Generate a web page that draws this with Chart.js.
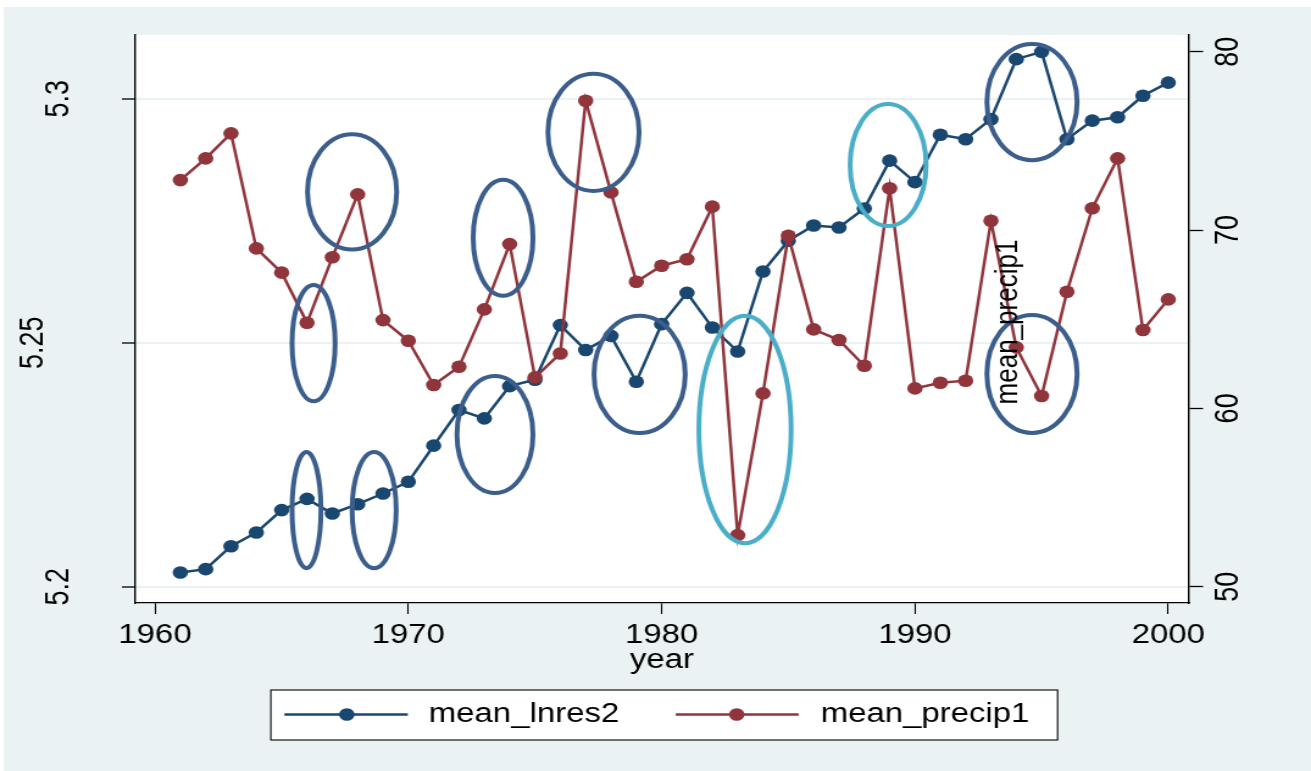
<!DOCTYPE html>
<html lang="en">
<head>
    <meta charset="UTF-8">
    <title>mean_lnres2 and mean_precip1 by year</title>
    <script src="https://cdn.jsdelivr.net/npm/chart.js"></script>
    <style>
        html, body {
            margin: 0;
            padding: 0;
            background: #fff;
        }
        #chart {
            display: block;
        }
    </style>
</head>
<body>
    <!-- the source graph is stretched sideways, so draw narrow and widen with an inline style -->
    <canvas id="chart" width="1075" height="771" style="width:1311px;height:771px"></canvas>

    <script>
        const STRETCH = 1311 / 1075;

        // data
        const years = [1961, 1962, 1963, 1964, 1965, 1966, 1967, 1968, 1969, 1970,
                       1971, 1972, 1973, 1974, 1975, 1976, 1977, 1978, 1979, 1980,
                       1981, 1982, 1983, 1984, 1985, 1986, 1987, 1988, 1989, 1990,
                       1991, 1992, 1993, 1994, 1995, 1996, 1997, 1998, 1999, 2000];
        const lnres2 = [5.2029, 5.2036, 5.2083, 5.2111, 5.2157, 5.2180, 5.2150, 5.2169, 5.2191, 5.2215,
                        5.2289, 5.2362, 5.2345, 5.2411, 5.2424, 5.2536, 5.2485, 5.2514, 5.2420, 5.2538,
                        5.2602, 5.2531, 5.2482, 5.2646, 5.2709, 5.2740, 5.2736, 5.2775, 5.2873, 5.2829,
                        5.2926, 5.2917, 5.2958, 5.3081, 5.3096, 5.2917, 5.2955, 5.2962, 5.3006, 5.3033];
        const precip1 = [72.80, 74.02, 75.42, 68.97, 67.61, 64.80, 68.47, 72.00, 64.95, 63.79,
                         61.31, 62.33, 65.55, 69.21, 61.74, 63.08, 77.25, 72.11, 67.10, 68.00,
                         68.36, 71.31, 52.89, 60.84, 69.68, 64.43, 63.83, 62.39, 72.34, 61.12,
                         61.44, 61.55, 70.52, 63.42, 60.69, 66.54, 71.22, 74.02, 64.39, 66.11];

        const xTicks = [1960, 1970, 1980, 1990, 2000];
        const leftTicks = [5.2, 5.25, 5.3];
        const leftTickLabels = ['5.2', '5.25', '5.3'];
        const rightTicks = [50, 60, 70, 80];
        const seriesNames = ['mean_lnres2', 'mean_precip1'];

        // hand-drawn circles on the graph, in data units (centre year/value, half width/height)
        const circled = [
            { year: 1967.78, value: 5.2809, dYear: 1.76, dValue: 0.0118, kind: 'dark' },
            { year: 1966.26, value: 5.2499, dYear: 0.85, dValue: 0.0119, kind: 'dark' },
            { year: 1965.98, value: 5.2157, dYear: 0.57, dValue: 0.0119, kind: 'dark' },
            { year: 1968.65, value: 5.2157, dYear: 0.87, dValue: 0.0119, kind: 'dark' },
            { year: 1973.74, value: 5.2715, dYear: 1.18, dValue: 0.0119, kind: 'dark' },
            { year: 1977.31, value: 5.2931, dYear: 1.80, dValue: 0.0120, kind: 'dark' },
            { year: 1973.42, value: 5.2312, dYear: 1.50, dValue: 0.0120, kind: 'dark' },
            { year: 1979.13, value: 5.2435, dYear: 1.80, dValue: 0.0120, kind: 'dark' },
            { year: 1983.29, value: 5.2322, dYear: 1.82, dValue: 0.0233, kind: 'light' },
            { year: 1988.94, value: 5.2864, dYear: 1.50, dValue: 0.0125, kind: 'light' },
            { year: 1994.62, value: 5.2993, dYear: 1.78, dValue: 0.0119, kind: 'dark' },
            { year: 1994.62, value: 5.2436, dYear: 1.78, dValue: 0.0121, kind: 'dark' }
        ];
        // stray label left on the graph
        const strayLabel = { text: 'mean_precip1', year: 1993.68, value: 64.84 };

        const BLUE = '#1A476F';
        const RED = '#90353B';
        const CIRCLE_COLORS = { dark: '#3B5E8C', light: '#4BAEC8' };
        const BG = '#EAF2F3';
        const FONT = '"Liberation Sans", Arial, sans-serif';
        const LINE_W = 2.5;

        Chart.defaults.font.family = FONT;
        Chart.defaults.font.size = 27;
        Chart.defaults.color = '#000';

        // background, white margin strip and white plot region
        const backdrop = {
            id: 'backdrop',
            beforeDraw(chart) {
                const { ctx, width, height, chartArea: a } = chart;
                ctx.save();
                ctx.fillStyle = '#fff';
                ctx.fillRect(0, 0, width, height);
                ctx.fillStyle = BG;
                ctx.fillRect(4 / STRETCH, 7, width, height);
                ctx.fillStyle = '#fff';
                ctx.fillRect(a.left, a.top, a.right - a.left, a.bottom - a.top);
                ctx.restore();
            }
        };

        // circles + stray label, placed with the chart's scales
        const markup = {
            id: 'markup',
            afterDatasetsDraw(chart) {
                const { ctx } = chart;
                const xs = chart.scales.x, ys = chart.scales.y, yr = chart.scales.y1;
                ctx.save();
                ctx.lineWidth = 4;
                circled.forEach(c => {
                    const cx = xs.getPixelForValue(c.year);
                    const cy = ys.getPixelForValue(c.value);
                    const rx = Math.abs(xs.getPixelForValue(c.year + c.dYear) - cx);
                    const ry = Math.abs(ys.getPixelForValue(c.value + c.dValue) - cy);
                    ctx.strokeStyle = CIRCLE_COLORS[c.kind];
                    ctx.beginPath();
                    ctx.ellipse(cx, cy, rx, ry, 0, 0, Math.PI * 2);
                    ctx.stroke();
                });

                ctx.translate(xs.getPixelForValue(strayLabel.year), yr.getPixelForValue(strayLabel.value));
                ctx.rotate(-Math.PI / 2);
                ctx.font = '26px ' + FONT;
                ctx.fillStyle = '#000';
                ctx.textAlign = 'center';
                ctx.textBaseline = 'middle';
                ctx.fillText(strayLabel.text, 0, 0);
                ctx.restore();
            },
            afterDraw(chart) {
                // boxed legend under the axis title
                const { ctx } = chart;
                const box = { left: 222.1, top: 690, right: 867.2, bottom: 740 };
                const entries = [
                    { lineFrom: 233.2, lineTo: 334.4, dot: 284.4, text: 351.6 },
                    { lineFrom: 554.1, lineTo: 654.9, dot: 604.1, text: 673.0 }
                ];
                const cy = 714.5;
                ctx.save();
                ctx.fillStyle = '#fff';
                ctx.fillRect(box.left, box.top, box.right - box.left, box.bottom - box.top);
                ctx.strokeStyle = '#000';
                ctx.lineWidth = 1.1;
                ctx.strokeRect(box.left, box.top, box.right - box.left, box.bottom - box.top);
                chart.data.datasets.forEach((ds, i) => {
                    const e = entries[i];
                    ctx.strokeStyle = ds.borderColor;
                    ctx.lineWidth = LINE_W;
                    ctx.beginPath();
                    ctx.moveTo(e.lineFrom, cy);
                    ctx.lineTo(e.lineTo, cy);
                    ctx.stroke();
                    ctx.fillStyle = ds.borderColor;
                    ctx.beginPath();
                    ctx.arc(e.dot, cy, 6.3, 0, Math.PI * 2);
                    ctx.fill();
                    ctx.fillStyle = '#000';
                    ctx.font = '27px ' + FONT;
                    ctx.textBaseline = 'middle';
                    ctx.textAlign = 'left';
                    ctx.fillText(ds.label, e.text, cy);
                });
                ctx.restore();
            }
        };

        const pairs = (vals) => years.map((yr, i) => ({ x: yr, y: vals[i] }));

        new Chart(document.getElementById('chart'), {
            type: 'line',
            data: {
                datasets: [
                    {
                        label: seriesNames[0],
                        data: pairs(lnres2),
                        yAxisID: 'y',
                        borderColor: BLUE,
                        backgroundColor: BLUE,
                        borderWidth: LINE_W,
                        pointRadius: 6.3,
                        pointBorderWidth: 0,
                        order: 1
                    },
                    {
                        label: seriesNames[1],
                        data: pairs(precip1),
                        yAxisID: 'y1',
                        borderColor: RED,
                        backgroundColor: RED,
                        borderWidth: LINE_W,
                        pointRadius: 6.3,
                        pointBorderWidth: 0,
                        order: 0
                    }
                ]
            },
            options: {
                responsive: false,
                devicePixelRatio: 1,
                animation: false,
                events: [],
                layout: { padding: { top: 35, left: 0, right: 0, bottom: 0 } },
                plugins: {
                    legend: { display: false },
                    tooltip: { enabled: false }
                },
                scales: {
                    x: {
                        type: 'linear',
                        position: 'bottom',
                        bounds: 'data',
                        min: 1959.21,
                        max: 2000.82,
                        afterBuildTicks: s => { s.ticks = xTicks.map(v => ({ value: v })); },
                        afterFit: s => { s.height = 771 - 603; s.paddingLeft = 0; s.paddingRight = 0; },
                        ticks: {
                            autoSkip: false,
                            maxRotation: 0,
                            padding: 5.8,
                            callback: v => String(v)
                        },
                        grid: { drawOnChartArea: false, tickLength: 11, tickColor: '#000', tickWidth: 1.1 },
                        border: { color: '#000', width: 1.3 },
                        title: {
                            display: true,
                            text: 'year',
                            padding: { top: 0, bottom: 93.8 }
                        }
                    },
                    y: {
                        type: 'linear',
                        position: 'left',
                        bounds: 'data',
                        min: 5.19666,
                        max: 5.31305,
                        afterBuildTicks: s => { s.ticks = leftTicks.map(v => ({ value: v })); },
                        afterFit: s => { s.width = 110.7; s.paddingTop = 0; s.paddingBottom = 0; },
                        ticks: {
                            autoSkip: false,
                            minRotation: 90,
                            maxRotation: 90,
                            crossAlign: 'center',
                            padding: 24.9,
                            // the middle label sits further out in the original; a blank second line nudges it
                            callback: (v, i) => i === 1 ? [leftTickLabels[i], ''] : leftTickLabels[i],
                            font: ctx => ({ size: 27, lineHeight: ctx.index === 1 ? '43px' : 1.2 })
                        },
                        grid: { color: BG, lineWidth: 2, tickLength: 10.7, tickColor: '#000', tickWidth: 1.3 },
                        border: { color: '#000', width: 1.4 }
                    },
                    y1: {
                        type: 'linear',
                        position: 'right',
                        bounds: 'data',
                        min: 49.086,
                        max: 80.936,
                        afterBuildTicks: s => { s.ticks = rightTicks.map(v => ({ value: v })); },
                        afterFit: s => { s.width = 1075 - 975; s.paddingTop = 0; s.paddingBottom = 0; },
                        ticks: {
                            autoSkip: false,
                            minRotation: 90,
                            maxRotation: 90,
                            crossAlign: 'center',
                            padding: 5.9,
                            callback: v => String(v)
                        },
                        grid: { drawOnChartArea: false, tickLength: 11.5, tickColor: '#000', tickWidth: 1.3 },
                        border: { color: '#000', width: 1.4 }
                    }
                }
            },
            plugins: [backdrop, markup]
        });
    </script>
</body>
</html>
